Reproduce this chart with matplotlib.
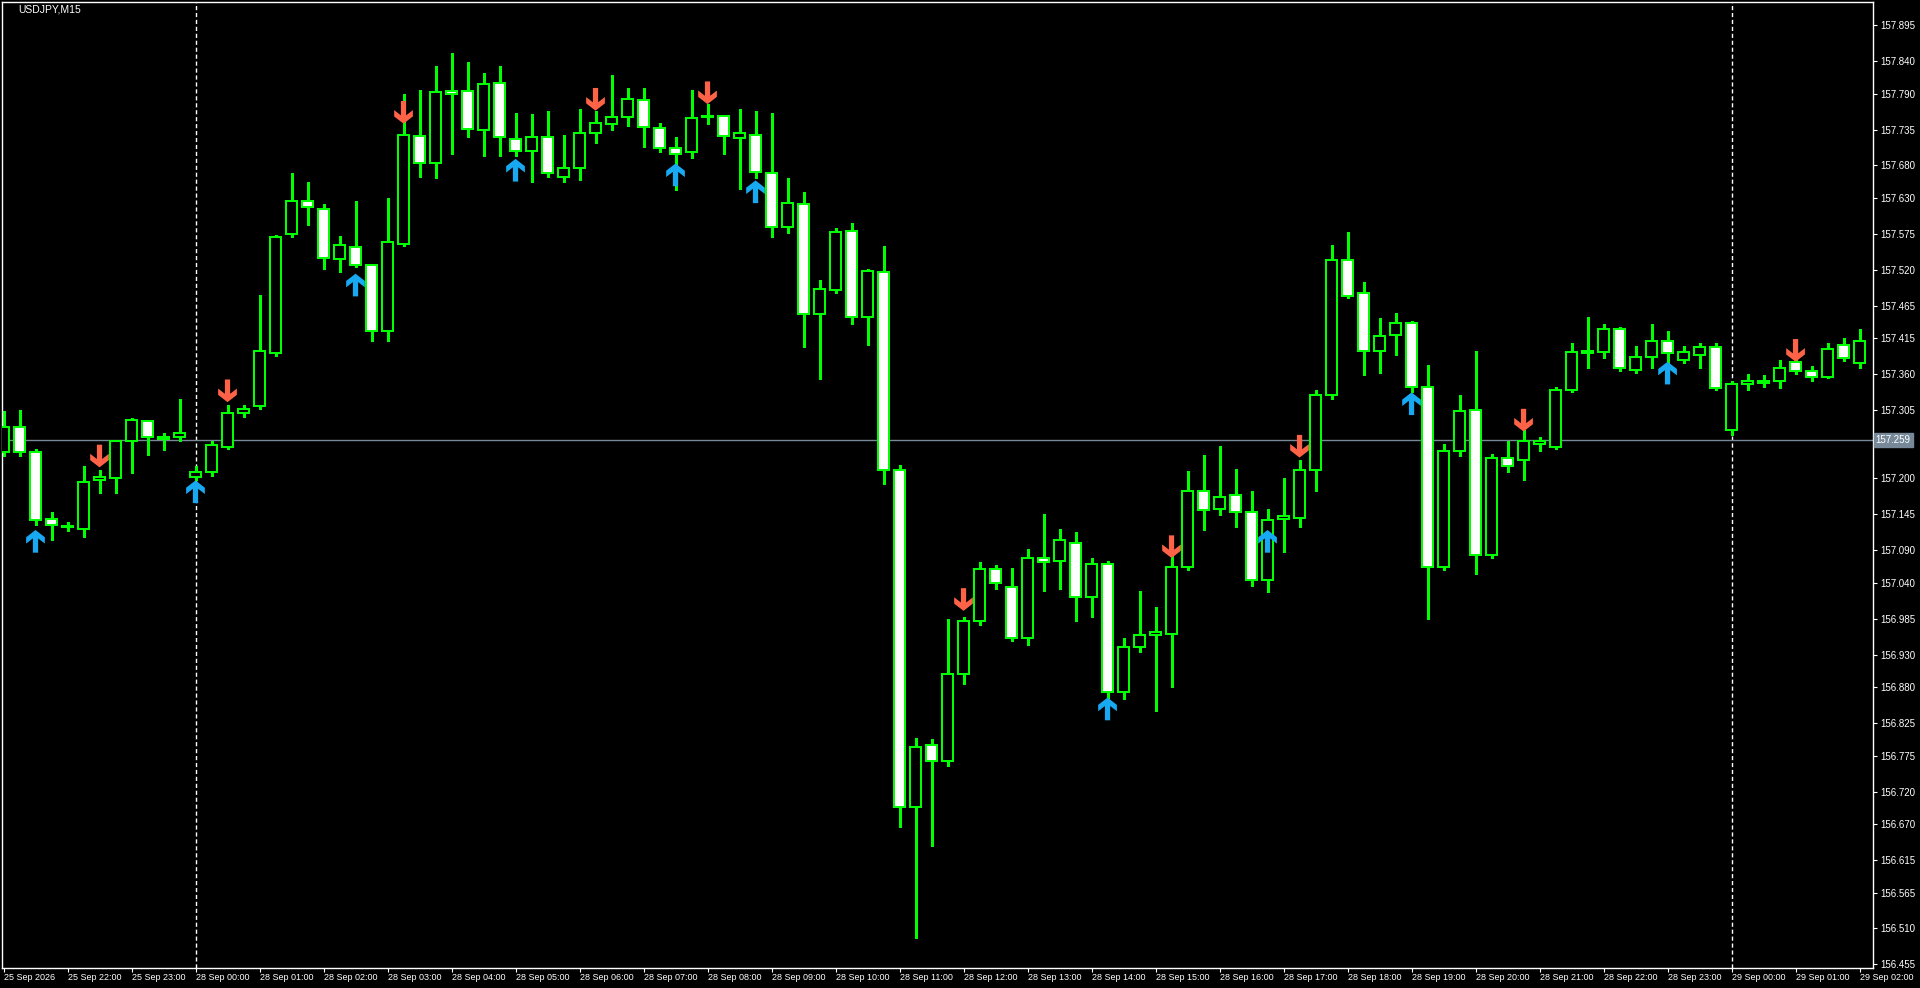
import numpy as np
import matplotlib.pyplot as plt
from matplotlib import font_manager
from matplotlib.patches import Rectangle, Polygon
import matplotlib.transforms as mtransforms

# USDJPY M15, 25 Sep 21:00 .. 29 Sep 02:00 (117 bars)
opens = [157.240, 157.279, 157.240, 157.138, 157.127, 157.122, 157.197, 157.200, 157.257, 157.288,
         157.264, 157.264, 157.202, 157.210, 157.249, 157.300, 157.311, 157.392, 157.575, 157.625,
         157.613, 157.537, 157.555, 157.527, 157.426, 157.560, 157.725, 157.684, 157.794, 157.794,
         157.734, 157.806, 157.720, 157.702, 157.723, 157.663, 157.676, 157.730, 157.743, 157.754,
         157.780, 157.737, 157.707, 157.700, 157.754, 157.756, 157.722, 157.726, 157.668, 157.586,
         157.621, 157.452, 157.489, 157.580, 157.448, 157.517, 157.213, 156.697, 156.791, 156.767,
         156.900, 156.982, 157.061, 157.034, 156.956, 157.078, 157.073, 157.101, 157.018, 157.069,
         156.872, 156.941, 156.960, 156.962, 157.065, 157.181, 157.153, 157.174, 157.148, 157.044,
         157.138, 157.140, 157.213, 157.328, 157.535, 157.484, 157.395, 157.420, 157.438, 157.341,
         157.065, 157.242, 157.305, 157.082, 157.232, 157.228, 157.253, 157.249, 157.335, 157.392,
         157.394, 157.429, 157.367, 157.386, 157.411, 157.382, 157.390, 157.401, 157.274, 157.345,
         157.347, 157.349, 157.379, 157.365, 157.356, 157.405, 157.377]
highs = [157.304, 157.305, 157.245, 157.148, 157.133, 157.219, 157.213, 157.259, 157.292, 157.288,
         157.270, 157.322, 157.219, 157.257, 157.313, 157.313, 157.482, 157.574, 157.669, 157.654,
         157.621, 157.572, 157.625, 157.527, 157.630, 157.789, 157.796, 157.833, 157.853, 157.839,
         157.821, 157.833, 157.761, 157.759, 157.764, 157.726, 157.767, 157.764, 157.819, 157.798,
         157.799, 157.745, 157.724, 157.796, 157.774, 157.756, 157.767, 157.764, 157.760, 157.660,
         157.640, 157.505, 157.584, 157.592, 157.521, 157.557, 157.221, 156.802, 156.800, 156.984,
         156.988, 157.072, 157.068, 157.063, 157.092, 157.146, 157.123, 157.118, 157.078, 157.074,
         156.956, 157.027, 157.003, 157.082, 157.212, 157.236, 157.250, 157.215, 157.181, 157.153,
         157.200, 157.228, 157.335, 157.558, 157.578, 157.502, 157.446, 157.453, 157.442, 157.374,
         157.253, 157.328, 157.396, 157.238, 157.257, 157.275, 157.264, 157.341, 157.407, 157.448,
         157.437, 157.433, 157.403, 157.437, 157.426, 157.403, 157.407, 157.407, 157.350, 157.360,
         157.358, 157.382, 157.388, 157.373, 157.407, 157.416, 157.429]
lows = [157.234, 157.234, 157.129, 157.106, 157.120, 157.110, 157.178, 157.178, 157.208, 157.236,
        157.244, 157.258, 157.197, 157.204, 157.245, 157.294, 157.307, 157.388, 157.570, 157.589,
        157.521, 157.516, 157.524, 157.411, 157.411, 157.557, 157.663, 157.660, 157.698, 157.724,
        157.695, 157.695, 157.694, 157.655, 157.663, 157.655, 157.657, 157.714, 157.735, 157.741,
        157.708, 157.700, 157.642, 157.692, 157.743, 157.698, 157.644, 157.660, 157.571, 157.577,
        157.402, 157.353, 157.484, 157.437, 157.404, 157.192, 156.665, 156.496, 156.637, 156.759,
        156.885, 156.975, 157.031, 156.951, 156.945, 157.027, 157.031, 156.981, 156.988, 156.862,
        156.862, 156.934, 156.844, 156.881, 157.059, 157.121, 157.144, 157.125, 157.035, 157.026,
        157.088, 157.125, 157.181, 157.322, 157.476, 157.358, 157.361, 157.389, 157.332, 156.984,
        157.059, 157.234, 157.054, 157.078, 157.210, 157.197, 157.242, 157.245, 157.332, 157.369,
        157.384, 157.365, 157.362, 157.369, 157.377, 157.377, 157.369, 157.335, 157.266, 157.335,
        157.341, 157.339, 157.360, 157.350, 157.354, 157.380, 157.369]
closes = [157.279, 157.240, 157.136, 157.129, 157.125, 157.195, 157.202, 157.258, 157.290, 157.264,
          157.260, 157.270, 157.210, 157.251, 157.300, 157.307, 157.396, 157.570, 157.625, 157.616,
          157.538, 157.558, 157.527, 157.426, 157.563, 157.727, 157.684, 157.792, 157.789, 157.736,
          157.805, 157.723, 157.702, 157.724, 157.668, 157.676, 157.730, 157.745, 157.754, 157.782,
          157.739, 157.707, 157.697, 157.753, 157.756, 157.725, 157.730, 157.670, 157.586, 157.622,
          157.452, 157.490, 157.578, 157.448, 157.518, 157.213, 156.697, 156.789, 156.767, 156.900,
          156.982, 157.061, 157.039, 156.956, 157.078, 157.072, 157.105, 157.018, 157.069, 156.872,
          156.941, 156.960, 156.964, 157.065, 157.181, 157.151, 157.172, 157.148, 157.044, 157.136,
          157.142, 157.213, 157.328, 157.535, 157.480, 157.395, 157.418, 157.438, 157.341, 157.065,
          157.242, 157.304, 157.082, 157.232, 157.219, 157.257, 157.257, 157.335, 157.394, 157.396,
          157.429, 157.369, 157.386, 157.411, 157.392, 157.394, 157.401, 157.339, 157.345, 157.349,
          157.349, 157.369, 157.365, 157.356, 157.399, 157.384, 157.411]

time_labels = ['25 Sep 2026', '25 Sep 22:00', '25 Sep 23:00',
               '28 Sep 00:00', '28 Sep 01:00', '28 Sep 02:00', '28 Sep 03:00', '28 Sep 04:00',
               '28 Sep 05:00', '28 Sep 06:00', '28 Sep 07:00', '28 Sep 08:00', '28 Sep 09:00',
               '28 Sep 10:00', '28 Sep 11:00', '28 Sep 12:00', '28 Sep 13:00', '28 Sep 14:00',
               '28 Sep 15:00', '28 Sep 16:00', '28 Sep 17:00', '28 Sep 18:00', '28 Sep 19:00',
               '28 Sep 20:00', '28 Sep 21:00', '28 Sep 22:00', '28 Sep 23:00',
               '29 Sep 00:00', '29 Sep 01:00', '29 Sep 02:00']
day_breaks = [12, 108]

# signal arrows: bar index and price of arrow tip
sell_idx = [6, 14, 25, 37, 44, 60, 73, 81, 95, 112]
sell_tip = [157.217, 157.317, 157.744, 157.764, 157.774, 156.997, 157.078, 157.232, 157.272, 157.379]
buy_idx = [2, 12, 22, 32, 42, 47, 69, 79, 88, 104]
buy_tip = [157.121, 157.197, 157.514, 157.690, 157.683, 157.657, 156.864, 157.121, 157.332, 157.379]

price_ticks = [157.895, 157.840, 157.790, 157.735, 157.680, 157.630, 157.575, 157.520, 157.465,
               157.415, 157.360, 157.305, 157.200, 157.145, 157.090, 157.040, 156.985, 156.930,
               156.880, 156.825, 156.775, 156.720, 156.670, 156.615, 156.565, 156.510, 156.455]
bid = 157.259

# pick a narrow font for the time scale if there is one
names = {f.name for f in font_manager.fontManager.ttflist}
if 'Liberation Sans Narrow' in names:
    xfont, xsize = 'Liberation Sans Narrow', 7.4
else:
    xfont, xsize = 'Liberation Sans', 6.5

W, H = 1920, 988
fig = plt.figure(figsize=(W / 100, H / 100), dpi=100, facecolor='black')
ax = fig.add_axes([2 / W, 1 - 968 / H, (1873 - 2) / W, (968 - 2) / H])
ax.set_facecolor('black')
ax.set_xlim(-0.094, 116.84)
ax.set_ylim(156.4494, 157.9306)

green = '#00FF00'
n = len(opens)
for i in range(n):
    o, h, l, c = opens[i], highs[i], lows[i], closes[i]
    ax.plot([i, i], [l, h], color=green, lw=1.0, zorder=2, antialiased=False, solid_capstyle='butt')
    fc = 'black' if c >= o else 'white'
    bot = min(o, c)
    ht = max(abs(c - o), 0.0004)
    ax.add_patch(Rectangle((i - 0.34, bot), 0.68, ht, facecolor=fc, edgecolor=green,
                           lw=1.2, zorder=3, antialiased=False))

for d in day_breaks:
    ax.axvline(d, color='white', lw=1.0, ls=(0, (3, 2)), zorder=1)

ax.axhline(bid, color='#778899', lw=1.0, zorder=1)

# arrow shape (tail at 0, tip at 1)
shape = np.array([(0, 1), (0.5, 0.68), (0.5, 0.40), (0.14, 0.63), (0.14, 0), (-0.14, 0),
                  (-0.14, 0.63), (-0.5, 0.40), (-0.5, 0.68)])
aw = 1.17
ah = 0.0348
for k, t in zip(buy_idx, buy_tip):
    pts = np.column_stack([k + shape[:, 0] * aw, t - (1 - shape[:, 1]) * ah])
    ax.add_patch(Polygon(pts, closed=True, fc='#17A9F2', ec='none', zorder=4))
for k, t in zip(sell_idx, sell_tip):
    pts = np.column_stack([k + shape[:, 0] * aw, t + (1 - shape[:, 1]) * ah])
    ax.add_patch(Polygon(pts, closed=True, fc='#FF6347', ec='none', zorder=4))

for s in ax.spines.values():
    s.set_color('white')
    s.set_linewidth(1.0)

ax.set_xticks(range(0, n, 4))
ax.set_xticklabels(time_labels, ha='left', fontsize=xsize, color='white', family=xfont)
ax.tick_params(axis='x', direction='out', length=3, width=0.8, colors='white', pad=0.5)

ax.yaxis.tick_right()
ax.set_yticks(price_ticks)
ax.set_yticklabels(['%.3f' % p for p in price_ticks], fontsize=7, color='white',
                   family='Liberation Sans')
ax.tick_params(axis='y', direction='out', length=3, width=0.8, colors='white', pad=2.5)

trans = mtransforms.blended_transform_factory(ax.transAxes, ax.transData)
ax.text(1.0015, bid, '%.3f' % bid, transform=trans, fontsize=7, color='white', va='center',
        ha='left', family='Liberation Sans',
        bbox=dict(boxstyle='square,pad=0.2', fc='#778899', ec='#778899'), clip_on=False)

fig.text(18 / W, 1 - 10 / H, 'USDJPY,M15', fontsize=7.5, color='white', va='center', ha='left',
         family='Liberation Sans')

fig.savefig('out.png', dpi=100, facecolor='black')
